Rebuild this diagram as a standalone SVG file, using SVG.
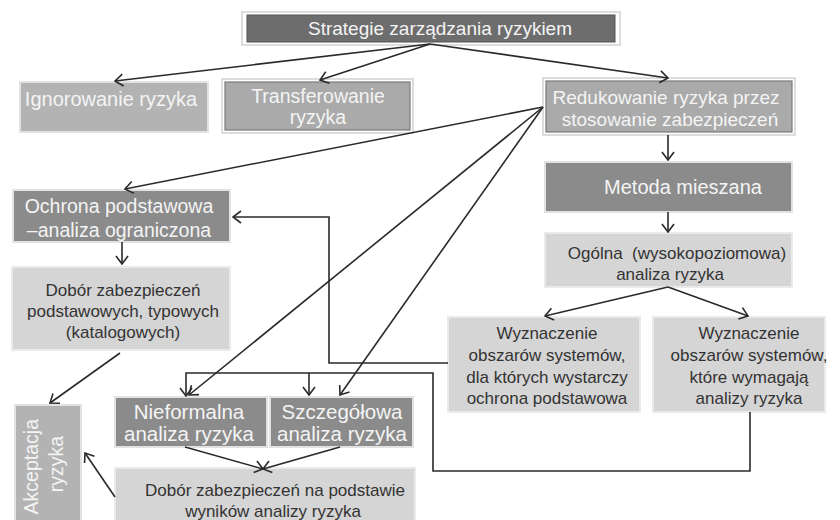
<svg xmlns="http://www.w3.org/2000/svg" width="840" height="520" viewBox="0 0 840 520">
<defs>
<marker id="arr" viewBox="0 0 10 14" markerWidth="10" markerHeight="14" refX="9" refY="7" orient="auto" markerUnits="userSpaceOnUse">
<path d="M1,1 L9,7 L1,13" fill="none" stroke="#2a2a2a" stroke-width="1.6"/>
</marker>
</defs>
<style>
.dark{fill:#6d6d6d;stroke:#555;stroke-width:1}
.mid{fill:#8b8b8b;stroke:#e2e2e2;stroke-width:2}
.soft{fill:#b3b3b3;stroke:#e2e2e2;stroke-width:2}
.softin{fill:#aaaaaa;stroke:#7a7a7a;stroke-width:1.2}
.frame{fill:none;stroke:#d2d2d2;stroke-width:1.5}
.light{fill:#d5d5d5;stroke:#eaeaea;stroke-width:2}
.wt{font-family:"Liberation Sans",Arial,sans-serif;font-size:19.5px;fill:#f4f4f4;text-anchor:middle}
.dt{font-family:"Liberation Sans",Arial,sans-serif;font-size:17px;fill:#333;text-anchor:middle;white-space:pre}
.con{fill:none;stroke:#2a2a2a;stroke-width:1.6}
.arr{marker-end:url(#arr)}
</style>
<rect width="840" height="520" fill="#ffffff"/>

<g id="n-strategie">
<rect class="frame" x="242" y="12" width="378" height="33"/>
<rect class="dark" x="247" y="15" width="368" height="27"/>
<text class="wt" x="440" y="35" style="font-size:19px">Strategie zarządzania ryzykiem</text>
</g>

<g id="n-ignorowanie">
<rect class="soft" x="20" y="82" width="188" height="50"/>
<text class="wt" x="111" y="106" style="font-size:20px">Ignorowanie ryzyka</text>
</g>

<g id="n-transferowanie">
<rect class="frame" x="222" y="79" width="191" height="54"/>
<rect class="softin" x="225" y="82" width="185" height="48"/>
<text class="wt" x="318" y="103">Transferowanie</text>
<text class="wt" x="318" y="124">ryzyka</text>
</g>

<g id="n-redukowanie">
<rect class="frame" x="543" y="78" width="252" height="57"/>
<rect class="softin" x="546" y="81" width="246" height="51"/>
<text class="wt" x="666" y="104" style="font-size:19px">Redukowanie ryzyka przez</text>
<text class="wt" x="670" y="126" style="font-size:19px">stosowanie zabezpieczeń</text>
</g>

<g id="n-metoda">
<rect class="mid" x="545" y="162" width="247" height="50"/>
<text class="wt" x="683" y="194" style="font-size:20px">Metoda mieszana</text>
</g>

<g id="n-ogolna">
<rect class="light" x="545" y="233" width="247" height="54"/>
<text class="dt" x="677" y="259">Ogólna  (wysokopoziomowa)</text>
<text class="dt" x="670" y="280">analiza ryzyka</text>
</g>

<g id="n-wyzn-podst">
<rect class="light" x="448" y="317" width="192" height="95"/>
<text class="dt" x="547" y="339">Wyznaczenie</text>
<text class="dt" x="547" y="361">obszarów systemów,</text>
<text class="dt" x="547" y="383">dla których wystarczy</text>
<text class="dt" x="547" y="404">ochrona podstawowa</text>
</g>

<g id="n-wyzn-analiza">
<rect class="light" x="653" y="317" width="172" height="95"/>
<text class="dt" x="749" y="339">Wyznaczenie</text>
<text class="dt" x="749" y="361">obszarów systemów,</text>
<text class="dt" x="749" y="383">które wymagają</text>
<text class="dt" x="749" y="404">analizy ryzyka</text>
</g>

<g id="n-ochrona">
<rect class="mid" x="13" y="190" width="217" height="52"/>
<text class="wt" x="119" y="213">Ochrona podstawowa</text>
<text class="wt" x="119" y="237">–analiza ograniczona</text>
</g>

<g id="n-dobor-podst">
<rect class="light" x="12" y="267" width="218" height="83"/>
<text class="dt" x="123" y="296">Dobór zabezpieczeń</text>
<text class="dt" x="123" y="317">podstawowych, typowych</text>
<text class="dt" x="123" y="338">(katalogowych)</text>
</g>

<g id="n-akceptacja">
<rect class="soft" x="15" y="405" width="66" height="122"/>
<text class="wt" transform="translate(47,464) rotate(-90)" x="0" y="0">
<tspan x="0" y="-9">Akceptacja</tspan>
<tspan x="0" y="16">ryzyka</tspan>
</text>
</g>

<g id="n-nieformalna">
<rect class="mid" x="115" y="397" width="152" height="50"/>
<text class="wt" x="189" y="419" style="font-size:20.5px">Nieformalna</text>
<text class="wt" x="189" y="441" style="font-size:20.5px">analiza ryzyka</text>
</g>

<g id="n-szczegolowa">
<rect class="mid" x="270" y="397" width="143" height="50"/>
<text class="wt" x="342" y="419" style="font-size:20.5px">Szczegółowa</text>
<text class="wt" x="342" y="441" style="font-size:20.5px">analiza ryzyka</text>
</g>

<g id="n-dobor-wynik">
<rect class="light" x="115" y="468" width="300" height="56"/>
<text class="dt" x="275" y="496">Dobór zabezpieczeń na podstawie</text>
<text class="dt" x="273" y="517">wyników analizy ryzyka</text>
</g>

<g id="connectors">
<path class="con arr" d="M430,44 L115,81"/>
<path class="con arr" d="M430,44 L320,80"/>
<path class="con arr" d="M430,44 L668,78"/>
<path class="con arr" d="M543,107 L125,189"/>
<path class="con arr" d="M543,107 L189,395"/>
<path class="con arr" d="M543,107 L340,395"/>
<path class="con arr" d="M668,135 L668,160"/>
<path class="con arr" d="M668,212 L668,232"/>
<path class="con arr" d="M668,287 L545,316"/>
<path class="con arr" d="M668,287 L748,316"/>
<path class="con arr" d="M448,363 L329,363 L329,217 L233,217"/>
<path class="con arr" d="M750,412 L750,471 L433,471 L433,373 L186,373 L186,396"/>
<path class="con arr" d="M309,373 L309,395"/>
<path class="con arr" d="M122,242 L122,264"/>
<path class="con arr" d="M120,353 L50,403"/>
<path class="con arr" d="M185,447 L263,469"/>
<path class="con arr" d="M340,447 L263,469"/>
<path class="con arr" d="M115,497 L85,453"/>
</g>
</svg>
